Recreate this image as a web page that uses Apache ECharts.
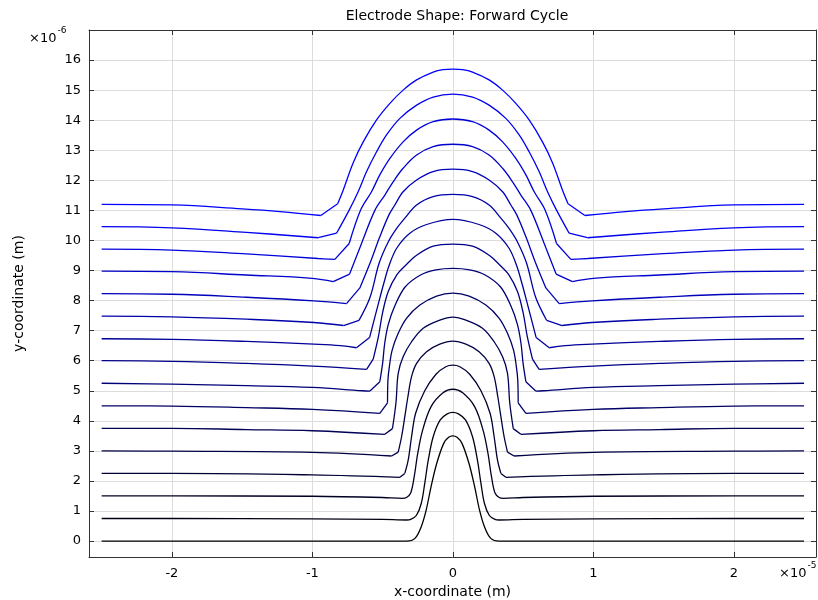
<!DOCTYPE html>
<html>
<head>
<meta charset="utf-8">
<script src="https://cdn.jsdelivr.net/npm/echarts@6/dist/echarts.min.js"></script>
<style>html,body{margin:0;padding:0;background:#fff}#c{width:818px;height:600px}</style>
</head>
<body>
<div id="c"></div>
<script>
// Left-half profiles (x in 1e-5 m, y in 1e-6 m); curves are symmetric about x = 0
const c00 = [[-2.5,0],[-1.0,0],[-0.33,0],[-0.27,0.09],[-0.225,0.48],[-0.19,1.03],[-0.155,1.81],[-0.115,2.58],[-0.065,3.25],[-0.03,3.45],[0,3.5]];
const c01 = [[-2.5,0.75],[-2.0,0.75],[-1.0,0.74],[-0.5,0.72],[-0.33,0.70],[-0.30,0.72],[-0.26,0.85],[-0.225,1.25],[-0.20,1.92],[-0.175,2.69],[-0.14,3.47],[-0.09,4.03],[-0.04,4.23],[0,4.28]];
const c02 = [[-2.5,1.5],[-2.0,1.5],[-1.0,1.49],[-0.5,1.45],[-0.36,1.42],[-0.33,1.45],[-0.30,1.6],[-0.275,2.14],[-0.25,2.92],[-0.215,3.69],[-0.155,4.47],[-0.07,4.93],[0,5.05]];
const c03 = [[-2.5,2.25],[-2.0,2.25],[-1.0,2.20],[-0.377,2.12],[-0.342,2.25],[-0.318,2.69],[-0.294,3.47],[-0.265,4.25],[-0.20,5.0],[-0.12,5.55],[-0.05,5.8],[0,5.85]];
const c04 = [[-2.5,3.0],[-2.0,2.99],[-1.0,2.95],[-0.436,2.83],[-0.389,2.96],[-0.365,3.47],[-0.342,4.14],[-0.32,4.8],[-0.294,5.47],[-0.258,5.91],[-0.187,6.30],[-0.093,6.55],[0,6.65]];
const c05 = [[-2.5,3.75],[-2.0,3.75],[-1.47,3.71],[-1.0,3.67],[-0.484,3.55],[-0.43,3.74],[-0.405,4.6],[-0.389,5.58],[-0.354,6.13],[-0.294,6.63],[-0.211,7.08],[-0.093,7.35],[0,7.45]];
const c06 = [[-2.5,4.5],[-2.0,4.49],[-1.47,4.44],[-1.0,4.38],[-0.52,4.25],[-0.465,4.6],[-0.462,5.36],[-0.452,5.8],[-0.432,6.35],[-0.389,6.91],[-0.33,7.41],[-0.235,7.85],[-0.116,8.15],[0,8.25]];
const c07 = [[-2.5,5.25],[-2.0,5.22],[-1.47,5.17],[-1.0,5.11],[-0.643,5.0],[-0.59,4.99],[-0.52,5.30],[-0.50,5.91],[-0.485,6.58],[-0.46,7.2],[-0.415,7.8],[-0.34,8.45],[-0.23,8.85],[-0.12,9.02],[0,9.07]];
const c08 = [[-2.5,6.0],[-2.0,5.98],[-1.47,5.91],[-1.0,5.82],[-0.614,5.71],[-0.567,6.05],[-0.53,6.8],[-0.50,7.6],[-0.46,8.3],[-0.40,8.85],[-0.33,9.2],[-0.258,9.51],[-0.14,9.81],[0,9.88]];
const c09 = [[-2.5,6.73],[-2.0,6.71],[-1.47,6.64],[-0.99,6.55],[-0.8,6.50],[-0.686,6.43],[-0.593,6.77],[-0.53,7.9],[-0.49,8.6],[-0.455,9.15],[-0.40,9.74],[-0.306,10.24],[-0.187,10.53],[0,10.70]];
const c10 = [[-2.5,7.48],[-2.0,7.46],[-1.47,7.38],[-0.99,7.27],[-0.778,7.17],[-0.668,7.34],[-0.59,8.1],[-0.525,9.24],[-0.46,9.95],[-0.40,10.4],[-0.342,10.74],[-0.258,11.18],[-0.14,11.46],[0,11.53]];
const c11 = [[-2.5,8.23],[-2.0,8.21],[-1.47,8.11],[-0.99,7.99],[-0.757,7.90],[-0.662,8.42],[-0.59,9.24],[-0.52,10.12],[-0.455,10.85],[-0.413,11.18],[-0.354,11.62],[-0.258,12.01],[-0.14,12.29],[0,12.37]];
const c12 = [[-2.5,8.98],[-2.0,8.96],[-1.47,8.85],[-1.0,8.74],[-0.852,8.63],[-0.735,8.88],[-0.65,9.9],[-0.555,11.0],[-0.484,11.51],[-0.425,11.95],[-0.354,12.40],[-0.258,12.84],[-0.14,13.12],[0,13.20]];
const c13 = [[-2.5,9.71],[-2.0,9.68],[-1.47,9.55],[-0.96,9.40],[-0.84,9.37],[-0.738,9.90],[-0.655,11.03],[-0.579,11.62],[-0.52,12.18],[-0.448,12.73],[-0.354,13.28],[-0.258,13.67],[-0.14,13.95],[0,14.04]];
const c14 = [[-2.5,10.46],[-2.0,10.42],[-1.47,10.27],[-0.958,10.09],[-0.828,10.24],[-0.738,11.01],[-0.674,11.62],[-0.614,12.29],[-0.543,12.95],[-0.472,13.51],[-0.377,14.06],[-0.258,14.50],[-0.14,14.77],[0,14.87]];
const c15 = [[-2.5,11.20],[-2.0,11.18],[-1.5,11.05],[-1.23,10.96],[-0.94,10.83],[-0.82,11.22],[-0.78,11.68],[-0.71,12.58],[-0.638,13.28],[-0.543,14.01],[-0.448,14.56],[-0.354,15.0],[-0.258,15.34],[-0.14,15.60],[-0.07,15.68],[0,15.70]];

const profiles = [c00,c01,c02,c03,c04,c05,c06,c07,c08,c09,c10,c11,c12,c13,c14,c15];
const xTicks = [-2,-1,0,1,2];
const yTicks = [0,1,2,3,4,5,6,7,8,9,10,11,12,13,14,15,16];

const mirror = pts => pts.slice().reverse().map(p => [-p[0], p[1]]);
function lineColor(i, n){
  const b = Math.round(255 * i / (n-1));
  return 'rgb(0,0,' + b + ')';
}

const FONT = 'DejaVu Sans';
const series = [];
profiles.forEach((h, i) => {
  const style = { width: 1.3, color: lineColor(i, profiles.length) };
  const base = { type: 'line', showSymbol: false, silent: true, animation: false, lineStyle: style, name: 'curve' + i };
  if (i <= 2) {
    series.push(Object.assign({}, base, { data: h.concat(mirror(h.slice(0, -1))), smooth: 0.35 }));
    return;
  }
  // split into: flat (edge→dip, gentle), straight dip→knee, smooth dome
  let d = 0;
  h.forEach((p, j) => { if (p[0] < -0.3 && p[1] <= h[d][1]) d = j; });
  const flat = h.slice(0, d + 1);
  const kink = h.slice(d, d + 2);
  const domeHalf = h.slice(d + 1);
  const dome = domeHalf.concat(mirror(domeHalf.slice(0, -1)));
  series.push(Object.assign({}, base, { data: flat, smooth: 0.4 }));
  series.push(Object.assign({}, base, { data: mirror(flat), smooth: 0.4 }));
  series.push(Object.assign({}, base, { data: kink }));
  series.push(Object.assign({}, base, { data: mirror(kink) }));
  series.push(Object.assign({}, base, { data: dome, smooth: 0.35 }));
});

const chart = echarts.init(document.getElementById('c'), null, {renderer: 'canvas'});
const axisLineStyle = { color: '#333', width: 1 };
chart.setOption({
  animation: false,
  backgroundColor: '#fff',
  title: {
    text: 'Electrode Shape: Forward Cycle',
    left: 452, top: 4, textAlign: 'center',
    textStyle: { fontFamily: FONT, fontSize: 14, fontWeight: 'normal', color: '#000' }
  },
  grid: { left: 89, top: 30, right: 2, bottom: 43, containLabel: false, outerBoundsMode: 'none' },
  xAxis: [{
    type: 'value', min: -2.59, max: 2.585,
    name: 'x-coordinate (m)', nameLocation: 'middle', nameGap: 25,
    nameTextStyle: { fontFamily: FONT, fontSize: 14, color: '#000' },
    axisLine: { show: true, onZero: false, lineStyle: axisLineStyle },
    axisTick: { show: true, inside: true, length: 5, customValues: xTicks, lineStyle: axisLineStyle },
    axisLabel: { customValues: xTicks, margin: 10, fontFamily: FONT, fontSize: 13, color: '#000', formatter: v => String(v) },
    splitLine: { show: true, lineStyle: { color: '#dcdcdc', width: 1 } }
  }, {
    type: 'value', min: -2.59, max: 2.585, position: 'top',
    axisLine: { show: true, onZero: false, lineStyle: axisLineStyle },
    axisTick: { show: true, inside: true, length: 5, customValues: xTicks, lineStyle: axisLineStyle },
    axisLabel: { show: false }, splitLine: { show: false }
  }],
  yAxis: [{
    type: 'value', min: -0.53, max: 17.0,
    name: 'y-coordinate (m)', nameLocation: 'middle', nameGap: 63, nameRotate: 90,
    nameTextStyle: { fontFamily: FONT, fontSize: 14, color: '#000' },
    axisLine: { show: true, onZero: false, lineStyle: axisLineStyle },
    axisTick: { show: true, inside: true, length: 5, customValues: yTicks, lineStyle: axisLineStyle },
    axisLabel: { customValues: yTicks, margin: 8, fontFamily: FONT, fontSize: 13, color: '#000', formatter: v => String(v) },
    splitLine: { show: true, lineStyle: { color: '#dcdcdc', width: 1 } }
  }, {
    type: 'value', min: -0.53, max: 17.0, position: 'right',
    axisLine: { show: true, onZero: false, lineStyle: axisLineStyle },
    axisTick: { show: true, inside: true, length: 5, customValues: yTicks, lineStyle: axisLineStyle },
    axisLabel: { show: false }, splitLine: { show: false }
  }],
  graphic: [{
    type: 'text', left: 29, top: 26,
    style: {
      text: '{b|×10}{s|-6}',
      rich: {
        b: { fontFamily: FONT, fontSize: 13, fill: '#000', padding: [8,0,0,0] },
        s: { fontFamily: FONT, fontSize: 9, fill: '#000', padding: [0,0,8,1] }
      }
    }
  }, {
    type: 'text', left: 779, top: 561,
    style: {
      text: '{b|×10}{s|-5}',
      rich: {
        b: { fontFamily: FONT, fontSize: 13, fill: '#000', padding: [8,0,0,0] },
        s: { fontFamily: FONT, fontSize: 9, fill: '#000', padding: [0,0,8,1] }
      }
    }
  }],
  series: series
});
</script>
</body>
</html>
